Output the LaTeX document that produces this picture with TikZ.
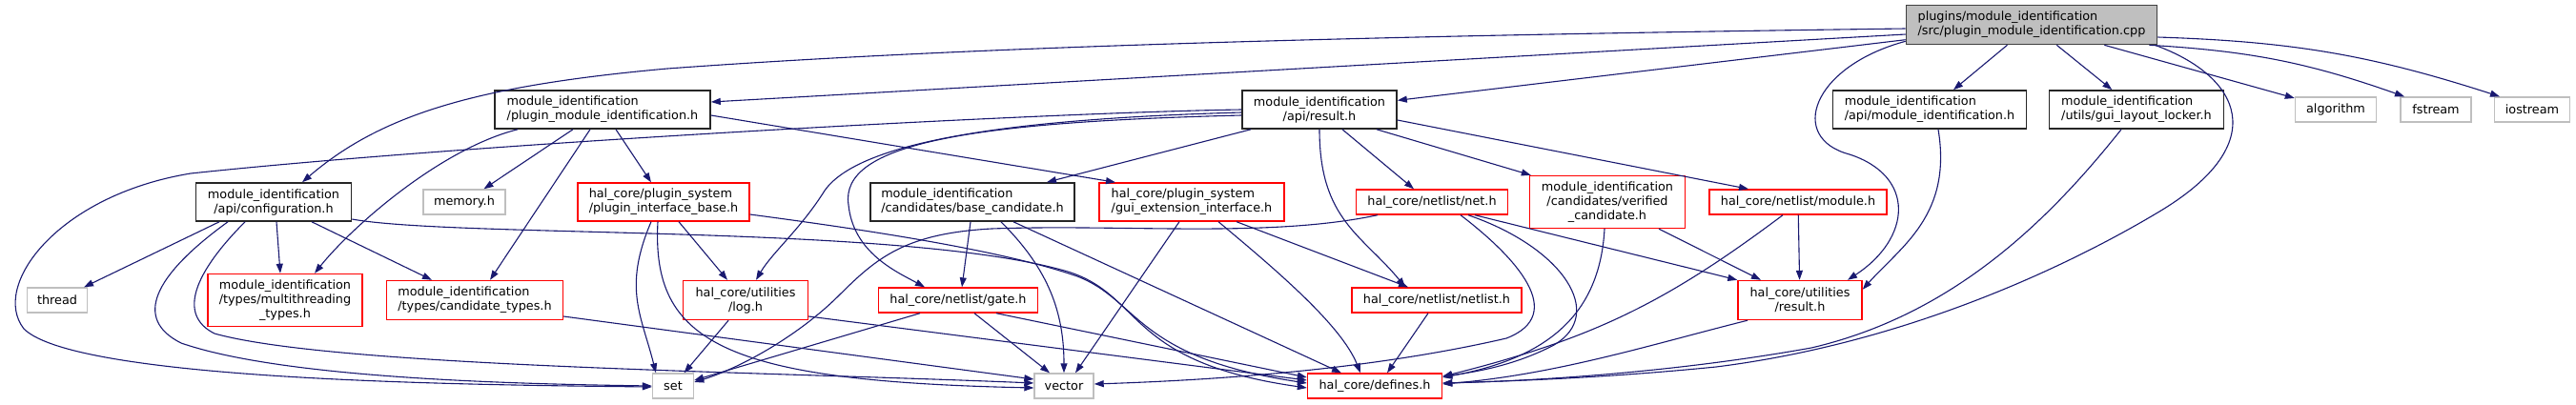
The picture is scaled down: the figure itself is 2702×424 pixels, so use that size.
\documentclass[tikz,border=0pt]{standalone}
\usepackage{fontspec}
\setmainfont{DejaVu Sans}
\usepackage{xcolor}
\usetikzlibrary{arrows.meta}
\definecolor{edgeblue}{RGB}{25,25,112}
\definecolor{sysgray}{RGB}{191,191,191}
\newcommand{\dotfont}{\fontsize{12.8}{15}\selectfont}
\tikzset{
  hbox/.style={draw=black!85,line width=1.6pt,inner sep=0pt,align=center,font=\dotfont,minimum height=26},
  redbox/.style={hbox,draw=red,line width=1.4pt},
  sysbox/.style={hbox,draw=sysgray,line width=1.4pt},
  srcbox/.style={hbox,draw=black!75,fill=sysgray},
  dep/.style={draw=edgeblue,line width=1.1pt,-{Triangle[length=10pt,width=7pt]}}
}

\begin{document}
\begin{tikzpicture}[x=1pt,y=-1pt]
\useasboundingbox (0,0) rectangle (2702,424);
% row 0 and 1
\node[srcbox,minimum width=263,minimum height=41,align=left] (src) at (2131,26) {plugins/module\_identification\\/src/plugin\_module\_identification.cpp};
\node[hbox,minimum width=226,minimum height=40,align=left] (pmi) at (632,115) {module\_identification\\/plugin\_module\_identification.h};
\node[hbox,minimum width=162,minimum height=40] (apires) at (1384,115) {module\_identification\\/api/result.h};
\node[hbox,minimum width=203,minimum height=40,align=left] (apimi) at (2024,115) {module\_identification\\/api/module\_identification.h};
\node[hbox,minimum width=183,minimum height=40,align=left] (guilock) at (2241,115) {module\_identification\\/utils/gui\_layout\_locker.h};
\node[sysbox,minimum width=85] (algorithm) at (2450,115) {algorithm};
\node[sysbox,minimum width=74] (fstream) at (2555,115) {fstream};
\node[sysbox,minimum width=79] (iostream) at (2656,115) {iostream};
% row 2
\node[hbox,minimum width=163,minimum height=40] (conf) at (287,212) {module\_identification\\/api/configuration.h};
\node[sysbox,minimum width=86] (memory) at (487,212) {memory.h};
\node[redbox,minimum width=180,minimum height=40,align=left] (pib) at (696,212) {hal\_core/plugin\_system\\/plugin\_interface\_base.h};
\node[hbox,minimum width=214,minimum height=40,align=left] (bcand) at (1020,212) {module\_identification\\/candidates/base\_candidate.h};
\node[redbox,minimum width=194,minimum height=40,align=left] (gext) at (1250,212) {hal\_core/plugin\_system\\/gui\_extension\_interface.h};
\node[redbox,minimum width=159] (net) at (1502,212) {hal\_core/netlist/net.h};
\node[redbox,minimum width=163,minimum height=55] (vcand) at (1686,212) {module\_identification\\/candidates/verified\\\_candidate.h};
\node[redbox,minimum width=186] (module) at (1886,212) {hal\_core/netlist/module.h};
% row 3
\node[sysbox,minimum width=63] (thread) at (60,315) {thread};
\node[redbox,minimum width=162,minimum height=55] (mthread) at (299,315) {module\_identification\\/types/multithreading\\\_types.h};
\node[redbox,minimum width=185,minimum height=41,align=left] (ctypes) at (498,315) {module\_identification\\/types/candidate\_types.h};
\node[redbox,minimum width=131,minimum height=41] (log) at (782,315) {hal\_core/utilities\\/log.h};
\node[redbox,minimum width=167] (gate) at (1005,315) {hal\_core/netlist/gate.h};
\node[redbox,minimum width=178] (netlist) at (1507,315) {hal\_core/netlist/netlist.h};
\node[redbox,minimum width=130,minimum height=41] (utilres) at (1888,315) {hal\_core/utilities\\/result.h};
% row 4
\node[sysbox,minimum width=43] (set) at (706,405) {set};
\node[sysbox,minimum width=62] (vector) at (1116,405) {vector};
\node[redbox,minimum width=141] (defines) at (1442,405) {hal\_core/defines.h};

% plugin_module_identification.cpp
\draw[dep] ([yshift=-4]src.west) .. controls (1400,38) and (1000,50) .. (700,72) .. controls (500,90) and (400,120) .. ([xshift=30]conf.north);
\draw[dep] ([yshift=-10]src.west) -- ([yshift=8]pmi.east);
\draw[dep] (src) -- (apires);
\draw[dep] (src) -- (apimi);
\draw[dep] (src) -- (guilock);
\draw[dep] (src) -- (algorithm);
\draw[dep] ([xshift=-9]src.south east) to[bend left=8] ([xshift=-33]fstream.north);
\draw[dep] ([yshift=-13]src.east) to[bend left=8] ([xshift=-34]iostream.north);
\draw[dep] ([yshift=4]src.south west) .. controls (1900,70) and (1875,145) .. (1940,162) .. controls (2010,185) and (2005,250) .. ([xshift=50]utilres.north);
\draw[dep] ([xshift=-3]src.south east) .. controls (2350,80) and (2385,150) .. (2265,222) .. controls (2170,279) and (2000,360) .. (1800,385) .. controls (1680,397) and (1580,400) .. ([yshift=3]defines.east);
% plugin_module_identification.h
\draw[dep] ([xshift=-89]pmi.south) .. controls +(-80,20) and +(40,-50) .. ([xshift=31]mthread.north);
\draw[dep] (pmi) -- (memory);
\draw[dep] ([xshift=-13]pmi.south) -- ([xshift=16]ctypes.north);
\draw[dep] ([xshift=14]pmi.south) -- ([xshift=-13]pib.north);
\draw[dep] ([yshift=-6]pmi.east) -- ([xshift=-80]gext.north);
% configuration.h
\draw[dep] ([xshift=-57]conf.south) -- ([xshift=28]thread.north);
\draw[dep] ([xshift=3]conf.south) -- ([xshift=-5]mthread.north);
\draw[dep] ([xshift=40]conf.south) -- ([xshift=-45]ctypes.north);
\draw[dep] ([xshift=-48]conf.south) .. controls (160,290) and (140,335) .. (190,360) .. controls (300,398) and (550,403) .. (set.west);
\draw[dep] ([xshift=-30]conf.south) .. controls (205,285) and (185,330) .. (225,350) .. controls (350,385) and (800,390) .. ([yshift=3]vector.west);
\draw[dep] ([yshift=-18]conf.east) .. controls (480,250) and (950,235) .. (1120,285) .. controls (1200,310) and (1180,380) .. ([yshift=-2]defines.west);
% plugin_interface_base.h
\draw[dep] ([xshift=16]pib.south) -- ([xshift=-19]log.north);
\draw[dep] ([xshift=-13]pib.south) .. controls +(-30,70) and +(-15,-60) .. ([xshift=-18]set.north);
\draw[dep] ([xshift=-6]pib.south) .. controls (683,360) and (760,400) .. ([yshift=-2]vector.west);
\draw[dep] ([yshift=-13]pib.east) .. controls (900,240) and (1050,262) .. (1130,290) .. controls (1195,315) and (1190,375) .. ([yshift=3]defines.west);
% log.h and candidate_types.h
\draw[dep] (log) -- (set);
\draw[dep] ([yshift=-17]log.east) -- ([yshift=6]defines.west);
\draw[dep] ([yshift=-17]ctypes.east) -- ([yshift=7]vector.west);
% api/result.h
\draw[dep] (apires.west) .. controls (1100,118) and (500,150) .. (200,182) .. controls (60,205) and (-10,300) .. (25,345) .. controls (80,400) and (500,404) .. ([yshift=-1]set.west);
\draw[dep] ([yshift=-3]apires.west) .. controls (1050,125) and (900,150) .. (865,200) .. controls (840,240) and (810,265) .. ([xshift=11]log.north);
\draw[dep] ([yshift=-6]apires.west) .. controls (1020,128) and (880,150) .. (890,215) .. controls (895,265) and (940,285) .. ([xshift=-35]gate.north);
\draw[dep] ([xshift=-72]apires.south) -- ([xshift=78]bcand.north);
\draw[dep] ([xshift=24]apires.south) -- ([xshift=-19]net.north);
\draw[dep] (apires.south) .. controls +(0,95) and +(-45,-55) .. ([xshift=-33]netlist.north);
\draw[dep] ([xshift=60]apires.south) -- ([xshift=2]vcand.north west);
\draw[dep] ([yshift=-11]apires.east) -- ([xshift=-52]module.north);
% base_candidate.h and gui_extension_interface.h
\draw[dep] ([xshift=-2]bcand.south) -- ([xshift=4]gate.north);
\draw[dep] ([xshift=30]bcand.south) .. controls +(45,45) and +(0,-70) .. (vector.north);
\draw[dep] ([xshift=43]bcand.south) -- ([xshift=-35]defines.north);
\draw[dep] ([xshift=-13]gext.south) -- ([xshift=12]vector.north);
\draw[dep] ([xshift=28]gext.south) .. controls +(60,50) and +(-20,-50) .. ([xshift=-15]defines.north);
\draw[dep] ([xshift=47]gext.south) -- ([xshift=-30]netlist.north);
% gate.h and netlist.h
\draw[dep] ([xshift=-40]gate.south) -- ([yshift=6]set.east);
\draw[dep] ([xshift=17]gate.south) -- ([xshift=-15]vector.north);
\draw[dep] ([xshift=40]gate.south) -- ([yshift=9]defines.west);
\draw[dep] ([xshift=-9]netlist.south) -- ([xshift=13]defines.north);
% net.h
\draw[dep] ([xshift=-57]net.south) .. controls (1330,250) and (1180,235) .. (1040,240) .. controls (950,245) and (920,270) .. (880,310) .. controls (840,350) and (780,385) .. ([yshift=4]set.east);
\draw[dep] ([xshift=30]net.south) .. controls (1590,270) and (1645,330) .. (1580,355) .. controls (1450,385) and (1300,398) .. ([yshift=2]vector.east);
\draw[dep] ([xshift=38]net.south) .. controls (1640,260) and (1685,330) .. (1630,362) .. controls (1590,383) and (1550,390) .. ([yshift=10]defines.east);
\draw[dep] ([xshift=45]net.south) -- (utilres.north west);
% verified_candidate.h, module.h, utilities/result.h
\draw[dep] ([xshift=-3]vcand.south) .. controls +(-5,90) and +(110,-20) .. ([yshift=9]defines.east);
\draw[dep] ([xshift=54]vcand.south) -- ([xshift=-41]utilres.north);
\draw[dep] ([xshift=-16]module.south) .. controls +(-120,90) and +(160,-40) .. ([yshift=10]defines.east);
\draw[dep] (module) -- (utilres);
\draw[dep] ([xshift=-55]utilres.south) .. controls +(-100,25) and +(120,-10) .. ([yshift=2]defines.east);
\draw[dep] ([xshift=9]apimi.south) .. controls +(15,90) and +(40,-45) .. ([yshift=-10]utilres.north east);
\draw[dep] ([xshift=-16]guilock.south) .. controls (2150,230) and (2050,330) .. (1900,365) .. controls (1750,392) and (1600,400) .. ([yshift=3]defines.east);
\end{tikzpicture}
\end{document}
